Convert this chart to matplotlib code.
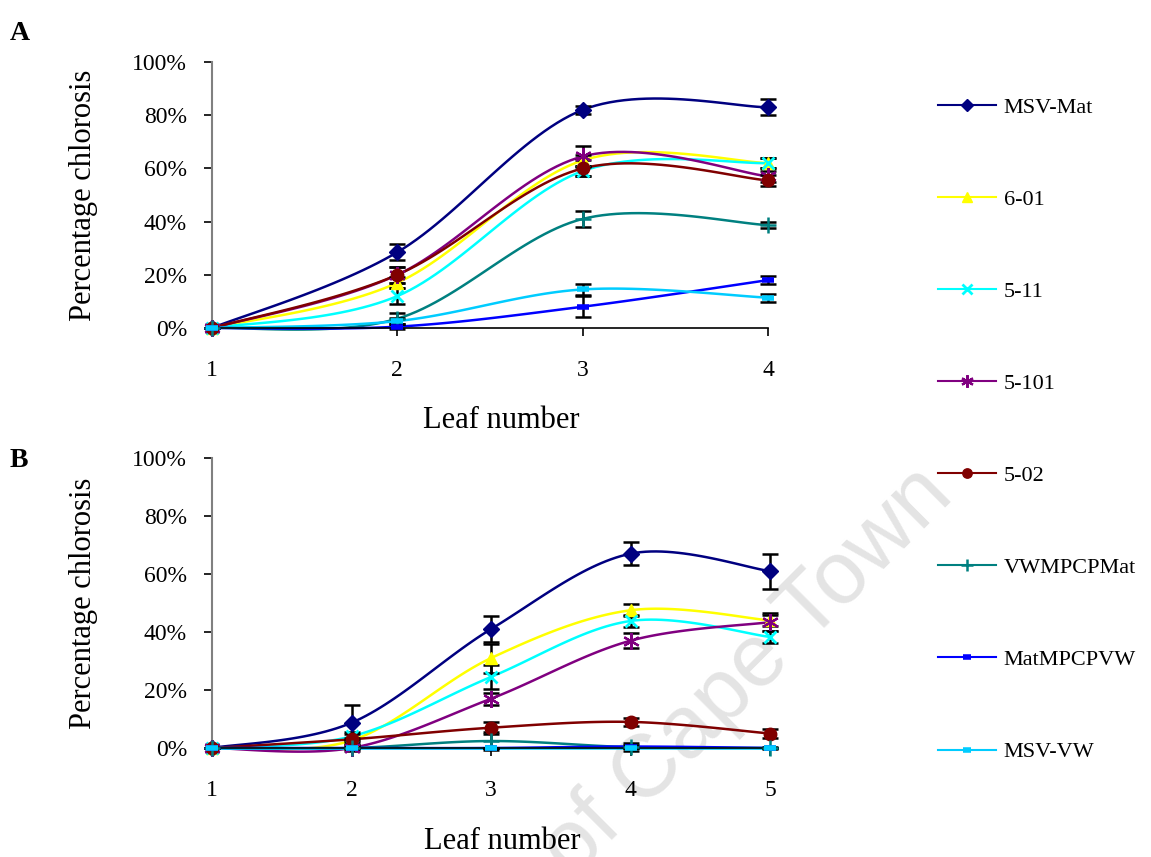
import numpy as np
import matplotlib
matplotlib.use("Agg")
import matplotlib.pyplot as plt
from matplotlib.ticker import PercentFormatter

plt.rcParams["font.family"] = ["Liberation Serif", "DejaVu Serif"]

series_names = ["MSV-Mat", "6-01", "5-11", "5-101", "5-02",
                "VWMPCPMat", "MatMPCPVW", "MSV-VW"]
series_colors = ["#000080", "#FFFF00", "#00FFFF", "#800080", "#800000",
                 "#008080", "#0000FF", "#00CCFF"]
series_markers = ["D", "^", "x", (6, 2, 0), "o", "+", "_", "_"]

# panel A: leaf 1-4, percentage chlorosis (fraction) and error
leaf_a = [1, 2, 3, 4]
vals_a = [
    [0.00, 0.285, 0.82, 0.83],
    [0.00, 0.17, 0.63, 0.62],
    [0.00, 0.12, 0.59, 0.62],
    [0.00, 0.20, 0.645, 0.57],
    [0.00, 0.20, 0.60, 0.555],
    [0.00, 0.035, 0.41, 0.387],
    [0.00, 0.005, 0.08, 0.18],
    [0.00, 0.026, 0.145, 0.114],
]
err_a = [
    [0.0, 0.03, 0.015, 0.03],
    [0.0, 0.02, 0.02, 0.02],
    [0.0, 0.03, 0.02, 0.02],
    [0.0, 0.03, 0.04, 0.02],
    [0.0, 0.03, 0.03, 0.02],
    [0.0, 0.02, 0.03, 0.01],
    [0.0, 0.01, 0.04, 0.015],
    [0.0, 0.01, 0.02, 0.015],
]

# panel B: leaf 1-5
leaf_b = [1, 2, 3, 4, 5]
vals_b = [
    [0.00, 0.087, 0.41, 0.67, 0.61],
    [0.00, 0.026, 0.31, 0.475, 0.44],
    [0.00, 0.04, 0.245, 0.438, 0.383],
    [0.00, 0.00, 0.17, 0.37, 0.434],
    [0.00, 0.03, 0.07, 0.09, 0.05],
    [0.00, 0.00, 0.024, 0.003, 0.00],
    [0.00, 0.00, 0.00, 0.005, 0.00],
    [0.00, 0.00, 0.00, 0.00, 0.00],
]
err_b = [
    [0.0, 0.06, 0.045, 0.04, 0.06],
    [0.0, 0.01, 0.05, 0.02, 0.02],
    [0.0, 0.015, 0.04, 0.02, 0.02],
    [0.0, 0.01, 0.02, 0.025, 0.03],
    [0.0, 0.02, 0.02, 0.015, 0.015],
    [0.0, 0.005, 0.03, 0.015, 0.005],
    [0.0, 0.0, 0.0, 0.005, 0.0],
    [0.0, 0.0, 0.0, 0.0, 0.0],
]


def smooth(x, y, n=30):
    # Excel-like smoothed line: Catmull-Rom bezier through the points
    x = np.asarray(x, float)
    y = np.asarray(y, float)
    px = np.concatenate([[x[0]], x, [x[-1]]])
    py = np.concatenate([[y[0]], y, [y[-1]]])
    t = np.linspace(0, 1, n)
    xs, ys = [], []
    for i in range(1, len(px) - 2):
        p0 = np.array([px[i], py[i]])
        p3 = np.array([px[i + 1], py[i + 1]])
        c1 = p0 + (np.array([px[i + 1], py[i + 1]]) - np.array([px[i - 1], py[i - 1]])) / 6
        c2 = p3 - (np.array([px[i + 2], py[i + 2]]) - np.array([px[i], py[i]])) / 6
        b = ((1 - t) ** 3)[:, None] * p0 + (3 * (1 - t) ** 2 * t)[:, None] * c1 \
            + (3 * (1 - t) * t ** 2)[:, None] * c2 + (t ** 3)[:, None] * p3
        xs.append(b[:, 0])
        ys.append(b[:, 1])
    return np.concatenate(xs), np.concatenate(ys)


def marker_kw(m):
    if m == "_":
        return dict(marker="_", markersize=8, markeredgewidth=4)
    if m == "x":
        return dict(marker="x", markersize=9, markeredgewidth=2)
    if m == "+":
        return dict(marker="+", markersize=11, markeredgewidth=1.8)
    if isinstance(m, tuple):
        return dict(marker=m, markersize=12, markeredgewidth=1.6)
    return dict(marker=m, markersize=9 if m != "D" else 8)


def draw_panel(ax, leaf, vals, errs):
    for name, col, mk, v, e in zip(series_names, series_colors, series_markers, vals, errs):
        sx, sy = smooth(leaf, v)
        ax.plot(sx, sy, color=col, lw=1.8, zorder=2, clip_on=False)
        ax.errorbar(leaf, v, yerr=e, fmt="none", ecolor="black", elinewidth=1.8,
                    capsize=6, capthick=1.8, zorder=3, clip_on=False)
        ax.plot(leaf, v, linestyle="none", color=col, markeredgecolor=col,
                zorder=4, clip_on=False, **marker_kw(mk))
    ax.set_xlim(leaf[0], leaf[-1])
    ax.set_ylim(0, 1)
    ax.set_xticks(leaf)
    ax.set_yticks(np.arange(0, 1.01, 0.2))
    ax.yaxis.set_major_formatter(PercentFormatter(1.0, decimals=0))
    ax.spines["top"].set_visible(False)
    ax.spines["right"].set_visible(False)
    ax.spines["left"].set_color("#808080")
    ax.spines["left"].set_linewidth(1.5)
    ax.spines["bottom"].set_linewidth(1.2)
    ax.tick_params(axis="y", length=6, width=1.2, pad=12, labelsize=17)
    ax.tick_params(axis="x", length=6, width=1.2, pad=17, labelsize=17)
    ax.set_facecolor("none")
    ax.set_ylabel("Percentage chlorosis", fontsize=22)
    ax.set_xlabel("Leaf number", fontsize=22)


fig = plt.figure(figsize=(11.51, 8.57), dpi=100)

ax_a = fig.add_axes([212 / 1151, 1 - 328 / 857, (768 - 212) / 1151, (328 - 62) / 857])
ax_b = fig.add_axes([212 / 1151, 1 - 748 / 857, (770 - 212) / 1151, (748 - 458) / 857])

draw_panel(ax_a, leaf_a, vals_a, err_a)
draw_panel(ax_b, leaf_b, vals_b, err_b)

ax_a.xaxis.set_label_coords(0.52, -0.295)
ax_b.xaxis.set_label_coords(0.52, -0.272)
ax_a.yaxis.set_label_coords(-0.205, 0.5)
ax_b.yaxis.set_label_coords(-0.205, 0.5)

fig.text(10 / 1151, 1 - 40 / 857, "A", fontsize=20, fontweight="bold")
fig.text(10 / 1151, 1 - 467 / 857, "B", fontsize=20, fontweight="bold")

# watermark from the source document
fig.text(955 / 1151, 1 - 498 / 857, "of Cape Town", fontsize=64, color="#e4e4e4",
         family=["Liberation Sans", "DejaVu Sans"], rotation=45,
         rotation_mode="anchor", ha="right", va="baseline", zorder=-5)

handles = []
for name, col, mk in zip(series_names, series_colors, series_markers):
    kw = marker_kw(mk)
    kw["markersize"] = kw["markersize"] * 0.75
    h, = ax_a.plot([], [], color=col, lw=1.5, markeredgecolor=col, **kw)
    handles.append(h)

fig.legend(handles, series_names, loc="upper left",
           bbox_to_anchor=(938 / 1151, 1 - 97 / 857), frameon=False,
           fontsize=16, labelspacing=3.22, handlelength=2.6,
           handletextpad=0.35, borderpad=0, borderaxespad=0)

fig.savefig("out.png", dpi=100)
